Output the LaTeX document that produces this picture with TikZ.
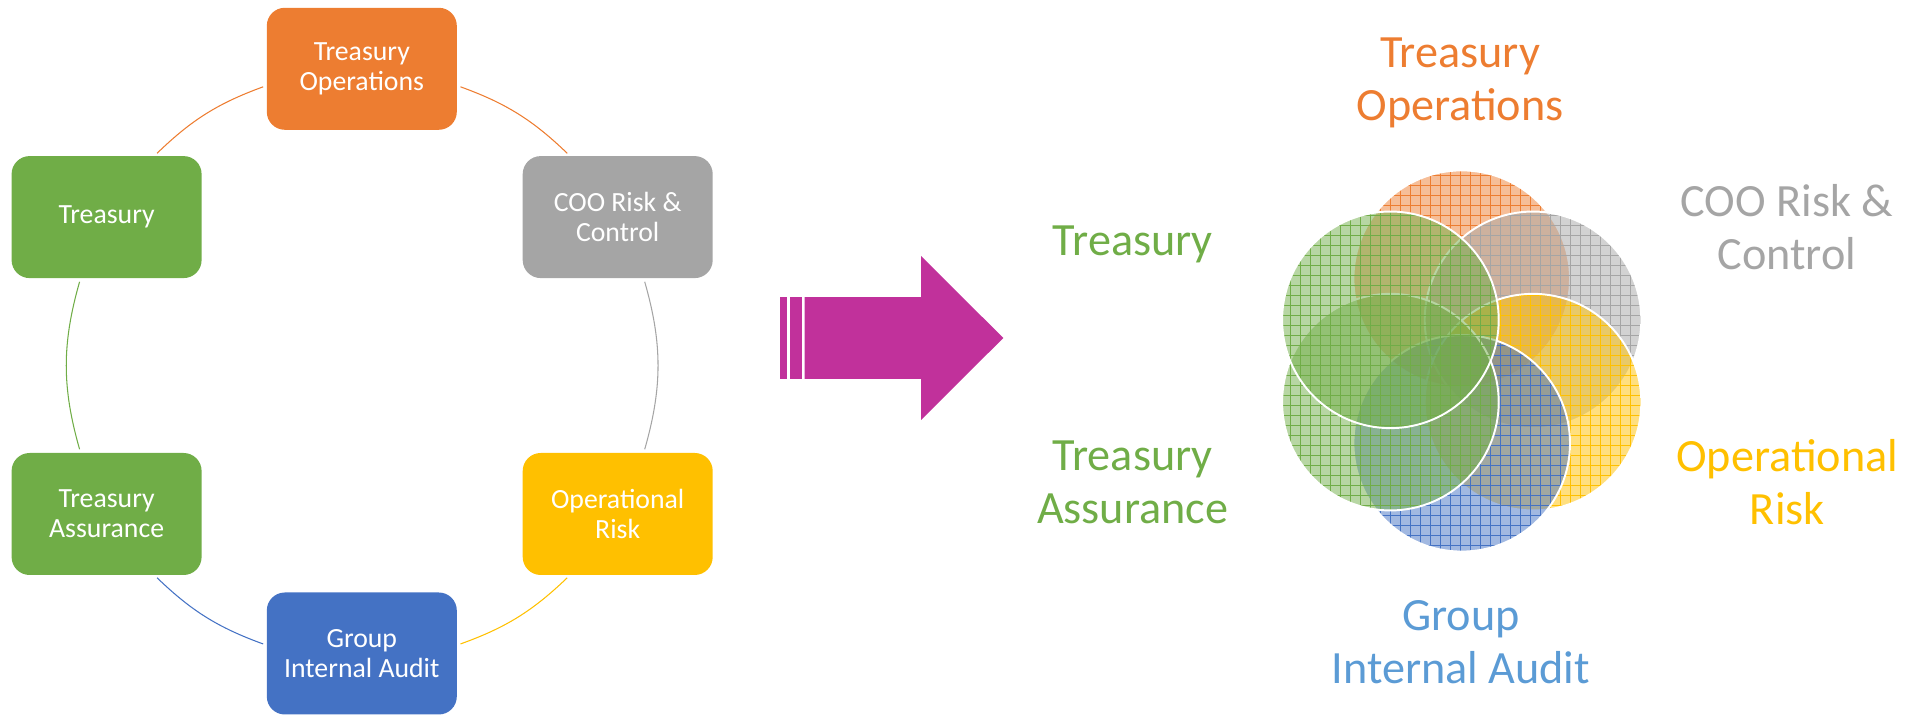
\documentclass[tikz,border=0pt]{standalone}
\usepackage{fontspec}
\setmainfont{Carlito}
\usepackage{xcolor}
\usepackage{tikz}
\usetikzlibrary{positioning, calc, patterns.meta}

\definecolor{torange}{HTML}{ED7D31}
\definecolor{tgray}{HTML}{A5A5A5}
\definecolor{tyellow}{HTML}{FFC000}
\definecolor{tblue}{HTML}{4472C4}
\definecolor{tlblue}{HTML}{5B9BD5}
\definecolor{tgreen}{HTML}{70AD47}
\definecolor{tmagenta}{RGB}{193,49,155}

\tikzset{
  box/.style={rounded corners=0.36cm, minimum width=3.8cm, minimum height=2.44cm, inner sep=0pt,
    text=white, align=center, font=\fontsize{15.8}{17}\selectfont},
  ring/.style={line width=0.6pt, shorten >=0.07cm, shorten <=0.07cm},
  lbl/.style={align=center, inner sep=0pt, font=\fontsize{26.3}{30}\selectfont},
  petal/.style={fill=#1, fill opacity=0.5},
  petalgrid/.style={pattern={Hatch[distance=0.2cm, line width=0.45pt]}, pattern color=#1, fill opacity=0.7},
  petalrim/.style={draw=white, line width=1.1pt}
}

\begin{document}
\begin{tikzpicture}
      \useasboundingbox (0,0) rectangle (38.34,14.3);

      \node[box, fill=torange] at (7.236,12.924) (TO) {Treasury\\Operations};
      \node[box, fill=tgray] at (12.354,9.958) (COO) {COO Risk \&\\Control};
      \node[box, fill=tyellow] at (12.354,4.02) (OR) {Operational\\Risk};
      \node[box, fill=tblue] at (7.236,1.23) (GIA) {Group\\Internal Audit};
      \node[box, fill=tgreen] at (2.132,4.02) (TA) {Treasury\\Assurance};
      \node[box, fill=tgreen] at (2.132,9.958) (TR) {Treasury};

      \draw[ring, torange] (TO.-10) to[bend left=12] (COO.128);
      \draw[ring, tgray] (COO.-67) to[bend left=16] (OR.67);
      \draw[ring, tyellow] (OR.-128) to[bend left=12] (GIA.5);
      \draw[ring, tblue] (GIA.175) to[bend left=12] (TA.-52);
      \draw[ring, tgreen] (TA.113) to[bend left=16] (TR.-113);
      \draw[ring, torange] (TR.52) to[bend left=12] (TO.190);

      \fill[tmagenta] (15.6,6.723) rectangle (15.746,8.357);
      \fill[tmagenta] (15.794,6.723) rectangle (16.04,8.357);
      \fill[tmagenta] (16.094,6.723) -- (18.42,6.723) -- (18.42,5.9) -- (20.066,7.54)
        -- (18.42,9.18) -- (18.42,8.357) -- (16.094,8.357) -- cycle;

      \fill[petal=torange] (29.234,8.726) circle (2.166);
      \fill[petalgrid=torange] (29.234,8.726) circle (2.166);
      \draw[petalrim] (29.234,8.726) circle (2.166);
      \fill[petal=tgray] (30.66,7.903) circle (2.166);
      \fill[petalgrid=tgray] (30.66,7.903) circle (2.166);
      \draw[petalrim] (30.66,7.903) circle (2.166);
      \fill[petal=tyellow] (30.66,6.257) circle (2.166);
      \fill[petalgrid=tyellow] (30.66,6.257) circle (2.166);
      \draw[petalrim] (30.66,6.257) circle (2.166);
      \fill[petal=tblue] (29.234,5.434) circle (2.166);
      \fill[petalgrid=tblue] (29.234,5.434) circle (2.166);
      \draw[petalrim] (29.234,5.434) circle (2.166);
      \fill[petal=tgreen] (27.808,6.257) circle (2.166);
      \fill[petalgrid=tgreen] (27.808,6.257) circle (2.166);
      \draw[petalrim] (27.808,6.257) circle (2.166);
      \fill[petal=tgreen] (27.808,7.903) circle (2.166);
      \fill[petalgrid=tgreen] (27.808,7.903) circle (2.166);
      \draw[petalrim] (27.808,7.903) circle (2.166);

      \node[lbl, text=torange] at (29.2,12.64) (LTO) {Treasury\\Operations};
      \node[lbl, text=tgray] at (35.74,9.76) (LCOO) {COO Risk \&\\Control};
      \node[lbl, text=tyellow] at (35.746,4.66) (LOR) {Operational\\Risk};
      \node[lbl, text=tlblue] at (29.216,1.46) (LGIA) {Group\\Internal Audit};
      \node[lbl, text=tgreen] at (22.654,4.66) (LTA) {Treasury\\Assurance};
      \node[lbl, text=tgreen] at (22.656,9.42) (LTR) {Treasury};
    \end{tikzpicture}
\end{document}
